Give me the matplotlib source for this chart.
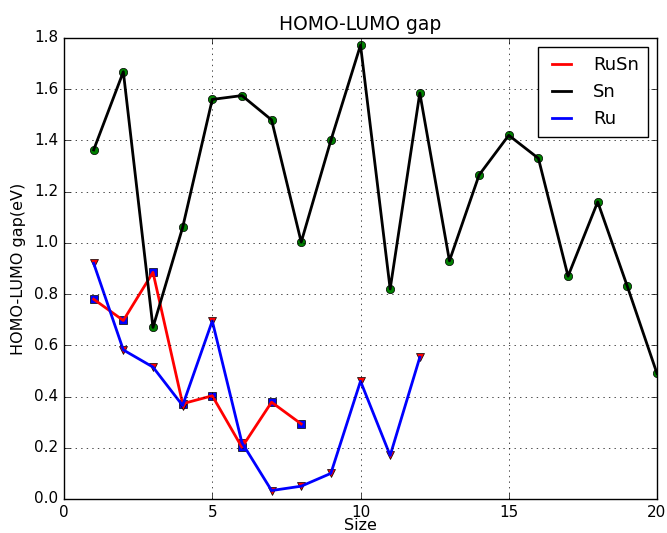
import matplotlib
matplotlib.use("Agg")
import matplotlib.pyplot as plt

plt.style.use("classic")

sn_x = list(range(1, 21))
sn_y = [1.363, 1.668, 0.67, 1.06, 1.56, 1.575, 1.48, 1.003, 1.40, 1.772,
        0.82, 1.585, 0.93, 1.265, 1.42, 1.33, 0.87, 1.16, 0.83, 0.49]
rusn_x = list(range(1, 9))
rusn_y = [0.78, 0.697, 0.885, 0.372, 0.403, 0.202, 0.378, 0.293]
ru_x = list(range(1, 13))
ru_y = [0.92, 0.582, 0.515, 0.365, 0.695, 0.22, 0.033, 0.05, 0.10, 0.46, 0.17, 0.553]

fig = plt.figure(figsize=(6.67, 5.33), dpi=100, facecolor="white")
ax = fig.add_axes([0.096, 0.0638, 0.889, 0.865])

ax.plot(rusn_x, rusn_y, "bs", markersize=6)
ax.plot(sn_x, sn_y, "go", markersize=6)
ax.plot(ru_x, ru_y, "rv", markersize=6)

ax.plot(rusn_x, rusn_y, "r-", linewidth=2, label="RuSn")
ax.plot(sn_x, sn_y, "k-", linewidth=2, label="Sn")
ax.plot(ru_x, ru_y, "b-", linewidth=2, label="Ru")

ax.set_xlim(0, 20)
ax.set_ylim(0, 1.8)
ax.set_xticks([0, 5, 10, 15, 20])
ax.set_yticks([0.0, 0.2, 0.4, 0.6, 0.8, 1.0, 1.2, 1.4, 1.6, 1.8])
ax.tick_params(labelsize=11, pad=4)
ax.grid(True)
ax.set_title("HOMO-LUMO gap", fontsize=13.5, pad=6)
ax.set_xlabel("Size", fontsize=11.5, labelpad=-1)
ax.set_ylabel("HOMO-LUMO gap(eV)", fontsize=11.5, labelpad=6)
ax.legend(loc="upper right", fontsize=13, handlelength=1.67, borderpad=0.5,
          labelspacing=0.5, handletextpad=0.9, borderaxespad=0.5)

fig.savefig("out.png", dpi=100, facecolor="white")
